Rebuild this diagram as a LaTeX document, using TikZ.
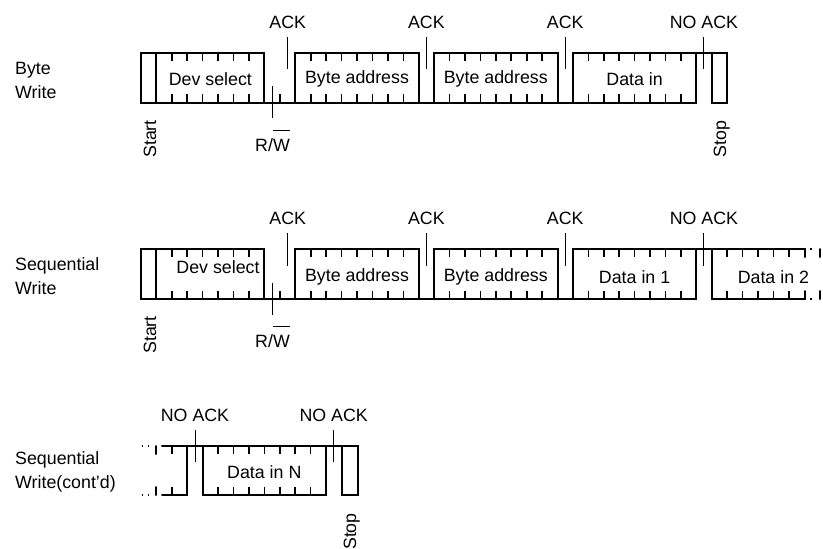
\documentclass[tikz,border=0pt]{standalone}
\usepackage{fontspec}
\setmainfont{Liberation Sans}
\newcommand{\rwbar}{R/\rlap{\rule[20.5pt]{16.8pt}{1pt}}W}
\tikzset{
  sig/.style={line width=2pt,line join=miter,line cap=round},
  tick/.style={line width=1.6pt},
  marker/.style={line width=1pt},
  dotted sig/.style={line width=2pt,dash pattern=on 1.5pt off 5pt},
  lbl/.style={font=\fontsize{17.8}{24}\selectfont,inner sep=0pt},
  vlbl/.style={lbl,rotate=90}
}
\begin{document}
\begin{tikzpicture}[x=1pt,y=-1pt]
\useasboundingbox (0,0) rectangle (823,549);
% Byte write
\draw[sig] (156.4,102.5) -- (156.4,52.7) -- (141,52.7) -- (141,102.5) -- (696.3,102.5) -- (696.3,52.7) -- (573,52.7) -- (573,102.5);
\draw[sig] (156.4,52.7) -- (264.4,52.7) -- (264.4,102.5);
\draw[sig] (295.3,102.5) -- (295.3,52.7) -- (418.7,52.7) -- (418.7,102.5);
\draw[sig] (434.1,102.5) -- (434.1,52.7) -- (557.5,52.7) -- (557.5,102.5);
\draw[sig] (696.3,52.7) -- (727.2,52.7) -- (727.2,102.5) -- (711.7,102.5) -- (711.7,52.7);
\foreach \x in {171.8,187.2,202.6,218,233.4,248.9,
    310.7,326.1,341.6,357,372.4,387.8,403.3,
    449.5,465,480.4,495.8,511.2,526.7,542.1,
    588.3,603.8,619.2,634.6,650,665.5,680.9} {
  \draw[tick] (\x,52.7) -- (\x,61);
  \draw[tick] (\x,94.3) -- (\x,102.5);
}
\draw[tick] (279.8,94.3) -- (279.8,102.5);
\draw[marker] (287.7,36.7) -- (287.7,69.3);
\draw[marker] (426.4,36.7) -- (426.4,69.3);
\draw[marker] (565.2,36.7) -- (565.2,69.3);
\draw[marker] (703.9,36.7) -- (703.9,69.3);
\draw[marker] (272,86) -- (272,118.3);
\node[lbl] (ack1) at (287.7,22) {ACK};
\node[lbl] (ack2) at (426.4,22) {ACK};
\node[lbl] (ack3) at (565.2,22) {ACK};
\node[lbl] (noack1) at (703.9,22) {NO ACK};
\node[lbl] (devsel1) at (210.4,79.3) {Dev select};
\node[lbl] (byte1) at (357,79.3) {Byte address};
\node[lbl] (byte2) at (495.8,79.3) {Byte address};
\node[lbl] (data1) at (634.6,79.3) {Data in};
\node[vlbl] (start1) at (150,139) {Start};
\node[vlbl] (stop1) at (721.7,139) {Stop};
\node[lbl,anchor=base] (rw1) at (272.5,151) {\rwbar};
\node[lbl,align=left,anchor=west] (name1) at (15,80) {Byte\\Write};
% Sequential write
\draw[sig] (156.4,299) -- (156.4,249) -- (141,249) -- (141,299) -- (696.3,299) -- (696.3,249) -- (573,249) -- (573,299);
\draw[sig] (156.4,249) -- (264.4,249) -- (264.4,299);
\draw[sig] (295.3,299) -- (295.3,249) -- (418.7,249) -- (418.7,299);
\draw[sig] (434.1,299) -- (434.1,249) -- (557.5,249) -- (557.5,299);
\draw[sig] (696.3,249) -- (805,249) -- (805,257);
\draw[sig] (805,291) -- (805,299) -- (711.7,299) -- (711.7,249);
\draw[dotted sig] (810,249) -- (816,249);
\draw[dotted sig] (810,299) -- (816,299);
\draw[sig] (819.5,249) -- (819.5,257);
\draw[sig] (819.5,291) -- (819.5,299);
\foreach \x in {171.8,187.2,202.6,218,233.4,248.9,
    310.7,326.1,341.6,357,372.4,387.8,403.3,
    449.5,465,480.4,495.8,511.2,526.7,542.1,
    588.3,603.8,619.2,634.6,650,665.5,680.9,
    727.2,742.6,758,773.4,788.8} {
  \draw[tick] (\x,249) -- (\x,257.3);
  \draw[tick] (\x,290.8) -- (\x,299);
}
\draw[tick] (279.8,290.8) -- (279.8,299);
\draw[marker] (287.7,233) -- (287.7,265.5);
\draw[marker] (426.4,233) -- (426.4,265.5);
\draw[marker] (565.2,233) -- (565.2,265.5);
\draw[marker] (703.9,233) -- (703.9,265.5);
\draw[marker] (272,282.5) -- (272,315);
\node[lbl] (ack4) at (287.7,218) {ACK};
\node[lbl] (ack5) at (426.4,218) {ACK};
\node[lbl] (ack6) at (565.2,218) {ACK};
\node[lbl] (noack2) at (703.9,218) {NO ACK};
\node[lbl] (devsel2) at (218,266.7) {Dev select};
\node[lbl] (byte3) at (357,276.7) {Byte address};
\node[lbl] (byte4) at (495.8,276.7) {Byte address};
\node[lbl] (data2) at (634.6,276.7) {Data in 1};
\node[lbl] (data3) at (773.4,276.7) {Data in 2};
\node[vlbl] (start2) at (150,335) {Start};
\node[lbl,anchor=base] (rw2) at (272.5,347) {\rwbar};
\node[lbl,align=left,anchor=west] (name2) at (15,276.5) {Sequential\\Write};
% Sequential write, continued
\draw[dotted sig] (141.5,446) -- (149,446);
\draw[dotted sig] (141.5,495) -- (149,495);
\draw[sig] (156,446) -- (156,454);
\draw[sig] (156,487) -- (156,495);
\draw[sig] (162,446) -- (202.7,446);
\draw[sig] (162,495) -- (187.3,495) -- (187.3,446);
\draw[sig] (202.7,446) -- (357.7,446) -- (357.7,495) -- (341.7,495) -- (341.7,446);
\draw[sig] (325.7,446) -- (325.7,495) -- (202.7,495) -- (202.7,446);
\foreach \x in {218,233.4,248.9,264.3,279.7,295.1,310.6} {
  \draw[tick] (\x,446) -- (\x,454);
  \draw[tick] (\x,486.8) -- (\x,495);
}
\draw[tick] (171.7,446) -- (171.7,454);
\draw[tick] (171.7,486.8) -- (171.7,495);
\draw[marker] (195,430) -- (195,462);
\draw[marker] (333.7,430) -- (333.7,462);
\node[lbl] (noack3) at (195,415) {NO ACK};
\node[lbl] (noack4) at (333.7,415) {NO ACK};
\node[lbl] (datan) at (264.3,472) {Data in N};
\node[vlbl,anchor=east] (stop3) at (351.7,513) {Stop};
\node[lbl,align=left,anchor=west] (name3) at (15,472) {Sequential\\Write(cont'd)};
\end{tikzpicture}
\end{document}
